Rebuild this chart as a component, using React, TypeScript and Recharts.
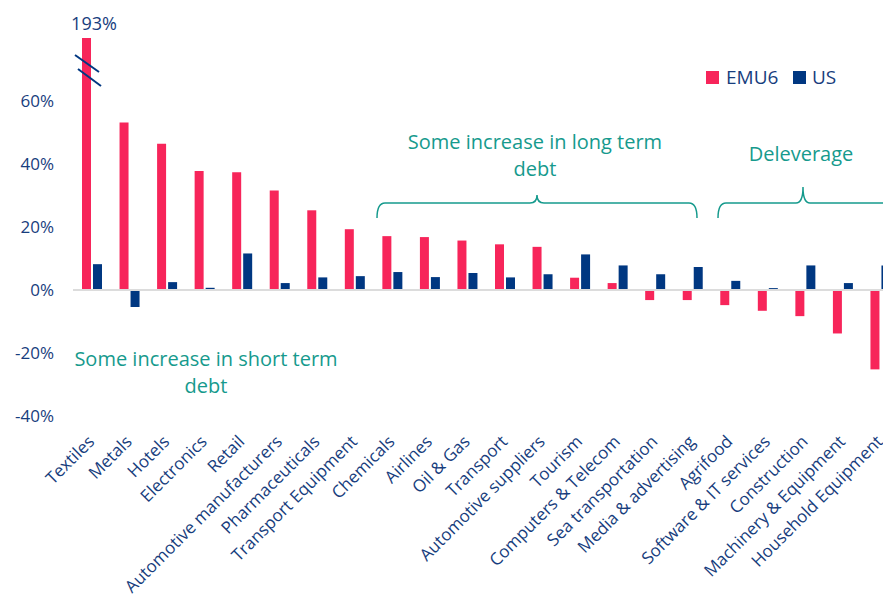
import * as React from "react"
import { BarChart, Bar, XAxis, YAxis, ReferenceLine } from "recharts"

// sectors, sorted as in the source
const categories = [
  "Textiles",
  "Metals",
  "Hotels",
  "Electronics",
  "Retail",
  "Automotive manufacturers",
  "Pharmaceuticals",
  "Transport Equipment",
  "Chemicals",
  "Airlines",
  "Oil & Gas",
  "Transport",
  "Automotive suppliers",
  "Tourism",
  "Computers & Telecom",
  "Sea transportation",
  "Media & advertising",
  "Agrifood",
  "Software & IT services",
  "Construction",
  "Machinery & Equipment",
  "Household Equipment",
]

const emu6Values = [
  193, 53.2, 46.4, 37.8, 37.4, 31.6, 25.3, 19.3, 17.1, 16.8, 15.7, 14.5, 13.7,
  3.9, 2.2, -3.2, -3.2, -4.8, -6.6, -8.3, -13.8, -25.2,
]
const usValues = [
  8.2, -5.4, 2.5, 0.7, 11.6, 2.2, 4.0, 4.4, 5.7, 4.1, 5.4, 4.0, 5.0, 11.3, 7.8,
  5.0, 7.3, 2.9, 0.6, 7.8, 2.2, 7.8,
]
const yTicks = [-40, -20, 0, 20, 40, 60]
const seriesNames = ["EMU6", "US"]

const PINK = "#f7255a"
const NAVY = "#003781"
const TEXT = "#173d7d"
const TEAL = "#169a8d"
const FONT = "'Open Sans', sans-serif"

const data = categories.map((name, i) => ({
  name,
  emu6: emu6Values[i],
  us: usValues[i],
}))

const AngledTick = (props: any) => {
  const { x, y, payload } = props
  const tx = x - 5
  const ty = y + 10
  return (
    <text
      x={tx}
      y={ty}
      dy="0.72em"
      textAnchor="end"
      transform={`rotate(-45, ${tx}, ${ty})`}
      fill={TEXT}
      fontSize={17}
      fontFamily={FONT}
    >
      {payload.value}
    </text>
  )
}

export default function App() {
  return (
    <div
      style={{
        position: "absolute",
        left: 0,
        top: 0,
        width: 883,
        height: 601,
        overflow: "hidden",
        background: "#fff",
      }}
    >
      <BarChart
        width={899}
        height={601}
        data={data}
        margin={{ top: 38, right: 0, bottom: 0, left: 0 }}
        barSize={9}
        barGap={2}
      >
        <XAxis
          dataKey="name"
          interval={0}
          height={185}
          axisLine={false}
          tickLine={false}
          tick={<AngledTick />}
        />
        <YAxis
          width={73}
          domain={[-40, 80]}
          ticks={yTicks}
          allowDataOverflow
          axisLine={false}
          tickLine={false}
          tickMargin={13}
          tickFormatter={(v: number) => `${v}%`}
          tick={{ fill: TEXT, fontSize: 17, fontFamily: FONT }}
        />
        <ReferenceLine y={0} stroke="#dcdcdc" strokeWidth={2} />
        <Bar dataKey="emu6" name={seriesNames[0]} fill={PINK} isAnimationActive={false} />
        <Bar dataKey="us" name={seriesNames[1]} fill={NAVY} isAnimationActive={false} />
      </BarChart>

      {/* annotations */}
      <svg
        width={883}
        height={601}
        style={{ position: "absolute", left: 0, top: 0, pointerEvents: "none" }}
        fontFamily={FONT}
      >
        <text x={94} y={30} textAnchor="middle" fill={TEXT} fontSize={18}>
          193%
        </text>
        <line x1={75} y1={55} x2={99} y2={72} stroke={NAVY} strokeWidth={2} />
        <line x1={78} y1={69} x2={101} y2={86} stroke={NAVY} strokeWidth={2} />

        <g fill={TEAL} fontSize={20} textAnchor="middle">
          <text x={535} y={149}>Some increase in long term</text>
          <text x={535} y={176}>debt</text>
          <text x={801} y={161}>Deleverage</text>
          <text x={206} y={366}>Some increase in short term</text>
          <text x={206} y={393}>debt</text>
        </g>
        <g fill="none" stroke={TEAL} strokeWidth={1.5}>
          <path d="M377,218 Q377,203 385,203 L530,203 Q537,203 537,195 Q537,203 544,203 L689,203 Q697,203 697,218" />
          <path d="M718,218 Q718,203 726,203 L796,203 Q803,203 803,187 Q803,203 810,203 L900,203" />
        </g>

        <rect x={706} y={71} width={13} height={13} fill={PINK} />
        <text x={726} y={84} fill={TEXT} fontSize={19}>
          {seriesNames[0]}
        </text>
        <rect x={793} y={71} width={13} height={13} fill={NAVY} />
        <text x={812} y={84} fill={TEXT} fontSize={19}>
          {seriesNames[1]}
        </text>
      </svg>
    </div>
  )
}
